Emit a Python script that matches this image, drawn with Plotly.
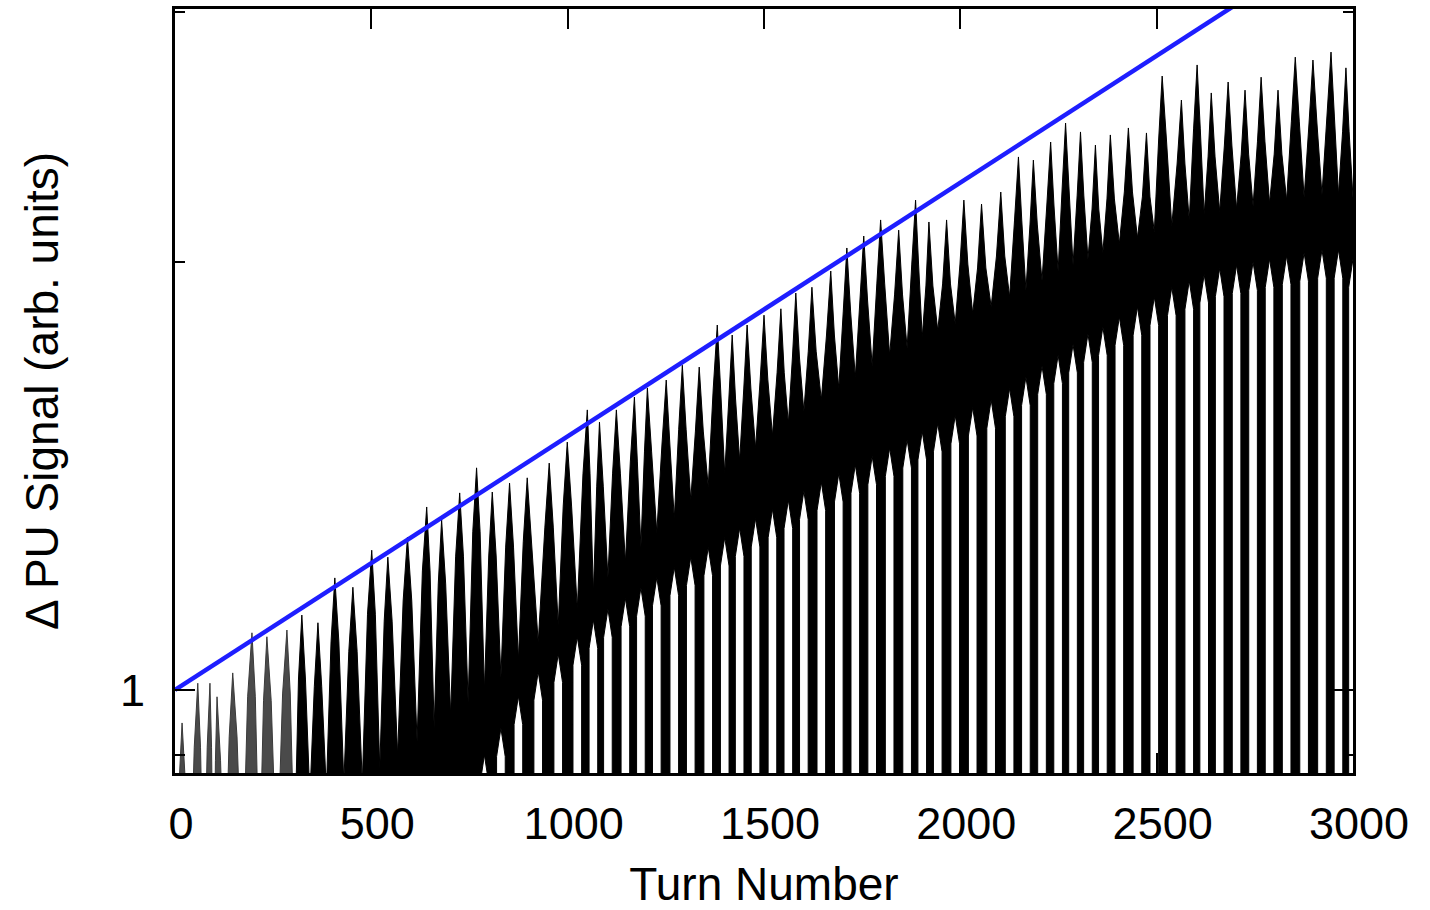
import plotly.graph_objects as go

# ---------------- data ----------------
turn_ticks = [0, 500, 1000, 1500, 2000, 2500, 3000]

# turn of each envelope maximum of the pick-up difference signal
peak_turns = [18, 58, 89, 107, 147, 196, 234, 285, 323, 364,
              407, 453, 501, 542, 592, 641, 679, 725, 768, 808,
              852, 897, 953, 999, 1050, 1081, 1124, 1170, 1203, 1251,
              1292, 1335, 1381, 1419, 1457, 1500, 1543, 1581, 1622, 1670,
              1711, 1754, 1797, 1843, 1886, 1920, 1965, 2009, 2054, 2103,
              2148, 2186, 2230, 2268, 2306, 2344, 2382, 2428, 2474, 2514,
              2563, 2603, 2639, 2682, 2725, 2766, 2809, 2853, 2898, 2944,
              2982]

# signal value at each envelope maximum
peak_vals = [0.948, 1.011, 1.011, 0.989, 1.028, 1.097, 1.090, 1.102, 1.129, 1.115,
             1.199, 1.181, 1.254, 1.240, 1.281, 1.345, 1.317, 1.376, 1.433, 1.378,
             1.398, 1.410, 1.444, 1.494, 1.574, 1.543, 1.574, 1.607, 1.631, 1.652,
             1.692, 1.687, 1.806, 1.777, 1.806, 1.835, 1.854, 1.902, 1.920, 1.971,
             2.046, 2.086, 2.141, 2.106, 2.211, 2.134, 2.141, 2.211, 2.197, 2.240,
             2.371, 2.359, 2.429, 2.505, 2.469, 2.417, 2.457, 2.485, 2.465, 2.703,
             2.600, 2.752, 2.630, 2.677, 2.642, 2.698, 2.642, 2.787, 2.774, 2.810,
             2.739]

# lowest value of the upper envelope after each maximum
upper_trough = [0.70, 0.70, 0.70, 0.72, 0.72, 0.74, 0.74, 0.76, 0.84, 0.85,
                0.86, 0.86, 0.88, 0.90, 0.92, 0.94, 0.96, 0.98, 1.00, 1.02,
                1.05, 1.08, 1.11, 1.14, 1.17, 1.20, 1.23, 1.26, 1.29, 1.32,
                1.36, 1.39, 1.42, 1.45, 1.48, 1.51, 1.54, 1.57, 1.60, 1.63,
                1.66, 1.69, 1.72, 1.74, 1.77, 1.79, 1.81, 1.84, 1.86, 1.89,
                1.91, 1.94, 1.97, 1.99, 2.01, 2.03, 2.06, 2.08, 2.10, 2.12,
                2.14, 2.16, 2.17, 2.18, 2.19, 2.20, 2.21, 2.22, 2.23, 2.23,
                2.22]

# highest value of the lower envelope after each maximum
lower_tip = [0.80, 0.80, 0.80, 0.80, 0.80, 0.80, 0.80, 0.80, 0.80, 0.80,
             0.80, 0.80, 0.80, 0.80, 0.80, 0.80, 0.80, 0.80, 0.90, 0.94,
             0.99, 1.03, 1.06, 1.09, 1.12, 1.14, 1.16, 1.18, 1.20, 1.22,
             1.24, 1.26, 1.28, 1.30, 1.32, 1.34, 1.36, 1.38, 1.40, 1.42,
             1.44, 1.46, 1.48, 1.50, 1.52, 1.54, 1.56, 1.58, 1.60, 1.63,
             1.66, 1.69, 1.72, 1.75, 1.78, 1.80, 1.83, 1.86, 1.89, 1.92,
             1.94, 1.96, 1.98, 1.99, 2.00, 2.01, 2.02, 2.03, 2.04, 2.04,
             2.01]

# exponential growth fit (straight on the log axis)
fit_turns = [0, 3000]
fit_vals = [1.0, 3.43]

# ---------------- drawing parameters ----------------
Y_LOG_RANGE = [-0.0584, 0.4790]
AXIS_BOTTOM = 10 ** Y_LOG_RANGE[0]
X_END = 3000
FLOOR = 0.5          # below the visible range
START_VAL = 0.70
HALF = 11            # half width (turns) of the gaps under the band
TIP = 0.02           # taper of the gaps, in decades
A_TIP = 11           # half width (turns) of a spike tip
UT = 0.045           # spike tip taper, in decades
EARLY_CUT_INDEX = 8  # columns before this trough drawn in grey

n = len(peak_turns)
mids = [(peak_turns[k] + peak_turns[k + 1]) / 2 if k + 1 < n else X_END
        for k in range(n)]

# upper envelope path
ux, uy = [0], [START_VAL]
prev_m = 0
for k in range(n):
    p, v, m = peak_turns[k], peak_vals[k], mids[k]
    al = min(A_TIP, 0.45 * (p - prev_m))
    ar = min(A_TIP, 0.45 * (m - p))
    sh = v / 10 ** UT
    ux += [p - al, p, p + ar, m]
    uy += [sh, v, sh, upper_trough[k]]
    prev_m = m

# lower envelope path (gaps rising from the bottom)
lx, ly = [], []
for k in range(n):
    tip = lower_tip[k]
    if tip <= AXIS_BOTTOM:
        continue
    m = mids[k]
    sh = tip / 10 ** TIP
    lx += [m - HALF, m - HALF, m, m + HALF, m + HALF]
    ly += [FLOOR, sh, tip, sh, FLOOR]


def piece(x0, x1):
    up = [(x, y) for x, y in zip(ux, uy) if x0 <= x <= x1]
    lo = [(x, y) for x, y in zip(lx, ly) if x0 <= x <= x1]
    pts = up + [(x1, FLOOR)] + lo[::-1] + [(x0, FLOOR)]
    return [q[0] for q in pts], [q[1] for q in pts]


cut = mids[EARLY_CUT_INDEX - 1]
ex, ey = piece(0, cut)
bx, by = piece(cut, X_END + 30)

fig = go.Figure()
fig.add_trace(go.Scatter(x=ex, y=ey, mode="lines", fill="toself",
                         fillcolor="#4a4a4a", line=dict(color="#3a3a3a", width=1),
                         hoverinfo="skip", showlegend=False))
fig.add_trace(go.Scatter(x=bx, y=by, mode="lines", fill="toself",
                         fillcolor="black", line=dict(color="black", width=1),
                         hoverinfo="skip", showlegend=False))
fig.add_trace(go.Scatter(x=fit_turns, y=fit_vals, mode="lines",
                         line=dict(color="#1e1eff", width=4.5),
                         hoverinfo="skip", showlegend=False))

FONT = "Liberation Sans, Arial, Helvetica, sans-serif"
fig.update_layout(
    width=1430, height=910,
    margin=dict(l=175, r=77, t=9, b=137, autoexpand=False),
    paper_bgcolor="white", plot_bgcolor="white",
    font=dict(family=FONT, size=45, color="black"),
    showlegend=False,
)
fig.update_xaxes(
    range=[0, 3000], tickvals=turn_ticks, ticktext=[str(t) for t in turn_ticks],
    ticks="inside", ticklen=20, tickwidth=2, tickcolor="black",
    showline=True, linewidth=3, linecolor="black", mirror="ticks",
    showgrid=False, zeroline=False, ticklabelstandoff=9, ticklabelshift=6,
    automargin=False,
    title=dict(text="Turn Number", font=dict(size=46), standoff=30),
)
fig.update_yaxes(
    type="log", range=Y_LOG_RANGE, tickvals=[1], ticktext=["1"],
    ticks="inside", ticklen=20, tickwidth=2, tickcolor="black",
    minor=dict(tickvals=[0.9, 2, 3], ticks="inside", ticklen=10,
               tickwidth=2, tickcolor="black", showgrid=False),
    showline=True, linewidth=3, linecolor="black", mirror="ticks",
    showgrid=False, zeroline=False, ticklabelstandoff=18,
    automargin=False,
    title=dict(text="Δ PU Signal (arb. units)", font=dict(size=46), standoff=47),
)

fig.write_html("out.html", config={"displayModeBar": False},
               post_script="document.body.style.margin='0';document.body.style.overflow='hidden';")
